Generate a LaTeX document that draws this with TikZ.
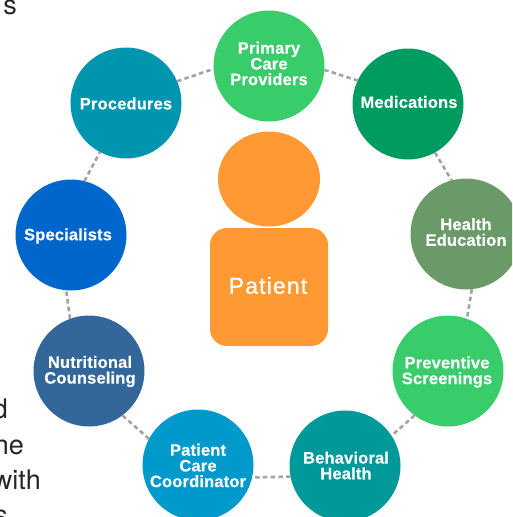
\documentclass[tikz,border=0pt]{standalone}
\usepackage{fontspec}
\usetikzlibrary{shapes.geometric}
\setmainfont{Liberation Sans}
\newfontfamily\labfont[LetterSpace=1,FakeBold=0.4,Ligatures=NoCommon]{Liberation Sans Bold}
\newfontfamily\patfont[LetterSpace=5,FakeBold=0.8]{Liberation Sans}
\newfontfamily\bgfont{TeX Gyre Heros}
\definecolor{cgreen}{HTML}{38CC6B}
\definecolor{cdeep}{HTML}{009B5E}
\definecolor{csage}{HTML}{699A68}
\definecolor{cteal}{HTML}{00999A}
\definecolor{csky}{HTML}{0099CC}
\definecolor{cslate}{HTML}{336699}
\definecolor{cblue}{HTML}{0066CC}
\definecolor{cproc}{HTML}{0095AE}
\definecolor{corange}{HTML}{FF9933}
\definecolor{clink}{HTML}{A3A3A3}
\tikzset{
  disc/.style={circle,fill=#1,minimum size=111pt,inner sep=0pt,outer sep=0pt},
  lab/.style={text=white,align=center,inner sep=0pt,font=\labfont\fontsize{16.5}{15.7}\selectfont},
  link/.style={draw=clink,line width=2.6pt,dash pattern=on 4.5pt off 3.2pt},
  bg/.style={anchor=base east,inner sep=0pt,text=black!85,font=\bgfont\fontsize{27}{27}\selectfont}
}
\begin{document}
\begin{tikzpicture}[x=1pt,y=-1pt]
\useasboundingbox (0,0) rectangle (512,517);
\clip (0,0) rectangle (512,517);
% fragments of surrounding text
\node[bg] (f1) at (17,14) {s};
\node[bg] (f2) at (8,418) {d};
\node[bg] (f3) at (24,454) {he};
\node[bg] (f4) at (41,489) {with};
\node[bg] (f5) at (8,524) {s};
% discs
\node[disc=cgreen] (primary) at (269,66) {};
\node[disc=cdeep] (med) at (408,104) {};
\node[disc=csage] (health) at (466,234) {};
\node[disc=cgreen] (prev) at (448,371) {};
\node[disc=cteal] (behav) at (345,466) {};
\node[disc=csky] (pcc) at (198,465) {};
\node[disc=cslate] (nutr) at (89,371) {};
\node[disc=cblue] (spec) at (71,235) {};
\node[disc=cproc] (proc) at (126,103) {};
% connectors
\draw[link] (primary.-4) -- (med.155);
\draw[link] (med.-61) -- (health.105);
\draw[link] (health.-84) -- (prev.70);
\draw[link] (prev.233) -- (behav.33);
\draw[link] (behav.191) -- (pcc.-13);
\draw[link] (pcc.152) -- (nutr.-53);
\draw[link] (nutr.110) -- (spec.265);
\draw[link] (spec.76) -- (proc.242);
\draw[link] (proc.23) -- (primary.183);
% labels
\node[lab] (tprimary) at (269,63.5) {Primary\\Care\\Providers};
\node[lab] (tmed) at (409,102) {Medications};
\node[lab] (thealth) at (466,232) {Health\\Education};
\node[lab] (tprev) at (447,372) {Preventive\\Screenings};
\node[lab] (tbehav) at (346,465.5) {Behavioral\\Health};
\node[lab] (tpcc) at (198,465.5) {Patient\\Care\\Coordinator};
\node[lab] (tnutr) at (90,371.5) {Nutritional\\Counseling};
\node[lab] (tspec) at (68,236) {Specialists};
\node[lab] (tproc) at (126,103.5) {Procedures};
% patient
\node[ellipse,fill=corange,minimum width=102pt,minimum height=95pt,inner sep=0pt] (head) at (269,179) {};
\node[rectangle,rounded corners=17pt,fill=corange,minimum width=118pt,minimum height=118pt,inner sep=0pt] (body) at (269,287) {};
\node[text=white,inner sep=0pt,font=\patfont\fontsize{23}{23}\selectfont] (tbody) at (268,285.5) {Patient};
\end{tikzpicture}
\end{document}
